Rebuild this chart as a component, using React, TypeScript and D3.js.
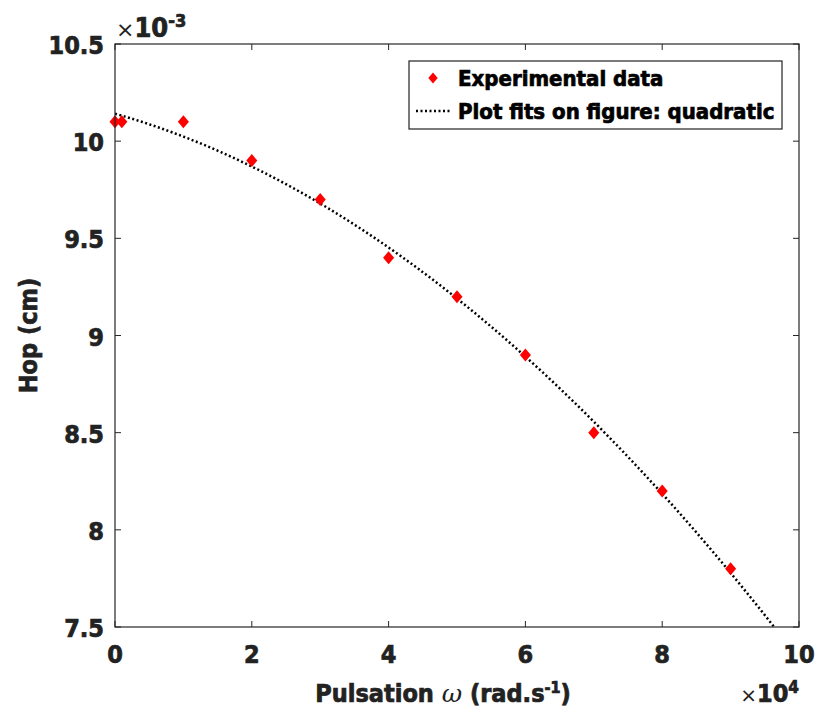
import React from 'react'
import * as d3 from 'd3'

// pulsation (x 1e4 rad/s) and hop (x 1e-3 cm)
const omega = [0, 0.1, 1, 2, 3, 4, 5, 6, 7, 8, 9]
const hop = [10.1, 10.1, 10.1, 9.9, 9.7, 9.4, 9.2, 8.9, 8.5, 8.2, 7.8]
const xTicks = [0, 2, 4, 6, 8, 10]
const yTicks = [7.5, 8, 8.5, 9, 9.5, 10, 10.5]

const width = 816
const height = 708
const margin = { left: 115, top: 44, right: 17, bottom: 81 }
const innerWidth = width - margin.left - margin.right
const innerHeight = height - margin.top - margin.bottom
const font = "'Liberation Sans Narrow', 'DejaVu Sans Condensed', sans-serif"
const axisColor = '#262626'
const heavy = { stroke: '#222', strokeWidth: 0.7 }

const xScale = d3.scaleLinear().domain([0, 10]).range([0, innerWidth])
const yScale = d3.scaleLinear().domain([7.5, 10.5]).range([innerHeight, 0])

// least squares quadratic, like matlab "basic fitting"
function quadFit(xs, ys) {
  const s = [0, 0, 0, 0, 0]
  const t = [0, 0, 0]
  xs.forEach((x, i) => {
    for (let k = 0; k < 5; k++) s[k] += Math.pow(x, k)
    for (let k = 0; k < 3; k++) t[k] += Math.pow(x, k) * ys[i]
  })
  const m = [
    [s[0], s[1], s[2], t[0]],
    [s[1], s[2], s[3], t[1]],
    [s[2], s[3], s[4], t[2]],
  ]
  for (let i = 0; i < 3; i++) {
    for (let j = i + 1; j < 3; j++) {
      const f = m[j][i] / m[i][i]
      for (let k = i; k < 4; k++) m[j][k] -= f * m[i][k]
    }
  }
  const c = [0, 0, 0]
  for (let i = 2; i >= 0; i--) {
    let v = m[i][3]
    for (let k = i + 1; k < 3; k++) v -= m[i][k] * c[k]
    c[i] = v / m[i][i]
  }
  return x => c[0] + c[1] * x + c[2] * x * x
}

const fit = quadFit(omega, hop)
const fitPts = d3.range(0, 10.001, 0.05).map(x => [x, fit(x)])

const line = d3
  .line()
  .x(d => xScale(d[0]))
  .y(d => yScale(d[1]))

function Diamond({ x, y, s = 6.5 }) {
  return <path d={`M${x},${y - s} L${x + s * 0.85},${y} L${x},${y + s} L${x - s * 0.85},${y} Z`} fill="#ff0000" />
}

export default function App() {
  return (
    <svg width={width} height={height} style={{ display: 'block', position: 'absolute', left: 0, top: 0, background: '#fff' }}>
      <defs>
        <clipPath id="plotClip">
          <rect x={0} y={0} width={innerWidth} height={innerHeight} />
        </clipPath>
      </defs>
      <g transform={`translate(${margin.left},${margin.top})`} fontFamily={font} fontWeight="bold">
        <path
          d={line(fitPts)}
          fill="none"
          stroke="#000"
          strokeWidth={2.5}
          strokeDasharray="2 2.5"
          clipPath="url(#plotClip)"
        />
        {omega.map((x, i) => (
          <Diamond key={i} x={xScale(x)} y={yScale(hop[i])} />
        ))}

        <rect x={0} y={0} width={innerWidth} height={innerHeight} fill="none" stroke={axisColor} strokeWidth={1.2} />
        {xTicks.map(t => (
          <g key={t}>
            <line x1={xScale(t)} x2={xScale(t)} y1={innerHeight} y2={innerHeight - 6} stroke={axisColor} />
            <line x1={xScale(t)} x2={xScale(t)} y1={0} y2={6} stroke={axisColor} />
            <text x={xScale(t)} y={innerHeight + 36} textAnchor="middle" fontSize={25} fill="#222" {...heavy}>
              {t}
            </text>
          </g>
        ))}
        {yTicks.map(t => (
          <g key={t}>
            <line x1={0} x2={6} y1={yScale(t)} y2={yScale(t)} stroke={axisColor} />
            <line x1={innerWidth} x2={innerWidth - 6} y1={yScale(t)} y2={yScale(t)} stroke={axisColor} />
            <text x={-11} y={yScale(t) + 10} textAnchor="end" fontSize={25} fill="#222" {...heavy}>
              {t}
            </text>
          </g>
        ))}

        <text x={1} y={-7} fontSize={27} fill="#222" {...heavy}>
          <tspan fontWeight="normal" fontFamily="'DejaVu Sans', sans-serif" fontSize={22} stroke="none">×</tspan>
          <tspan>10</tspan>
          <tspan dy={-10} fontSize={18}>-3</tspan>
        </text>
        <text x={innerWidth} y={innerHeight + 75} textAnchor="end" fontSize={25} fill="#222" {...heavy}>
          <tspan fontWeight="normal" fontFamily="'DejaVu Sans', sans-serif" fontSize={20} stroke="none">×</tspan>
          <tspan>10</tspan>
          <tspan dy={-9} fontSize={17}>4</tspan>
        </text>

        <text x={innerWidth / 2 - 14} y={innerHeight + 75} textAnchor="middle" fontSize={25} fill="#222" {...heavy}>
          Pulsation{' '}
          <tspan fontStyle="italic" fontWeight="normal" fontFamily="'DejaVu Serif', serif" stroke="none">ω</tspan> (rad.s
          <tspan dy={-9} fontSize={16}>-1</tspan>
          <tspan dy={9}>)</tspan>
        </text>
        <text transform={`translate(${-78},${innerHeight / 2}) rotate(-90)`} textAnchor="middle" fontSize={25} fill="#222" {...heavy}>
          Hop (cm)
        </text>

        <g transform={`translate(${409 - margin.left},${61 - margin.top})`}>
          <rect x={0} y={0} width={373} height={68} fill="#fff" stroke="#222" strokeWidth={1.2} />
          <Diamond x={24} y={17} s={5.5} />
          <text x={49} y={25} fontSize={22} fill="#000" {...heavy} stroke="#000">Experimental data</text>
          <line x1={7} x2={43} y1={50} y2={50} stroke="#000" strokeWidth={2.5} strokeDasharray="2 2.5" />
          <text x={49} y={58} fontSize={22} fill="#000" {...heavy} stroke="#000">Plot fits on figure: quadratic</text>
        </g>
      </g>
    </svg>
  )
}
